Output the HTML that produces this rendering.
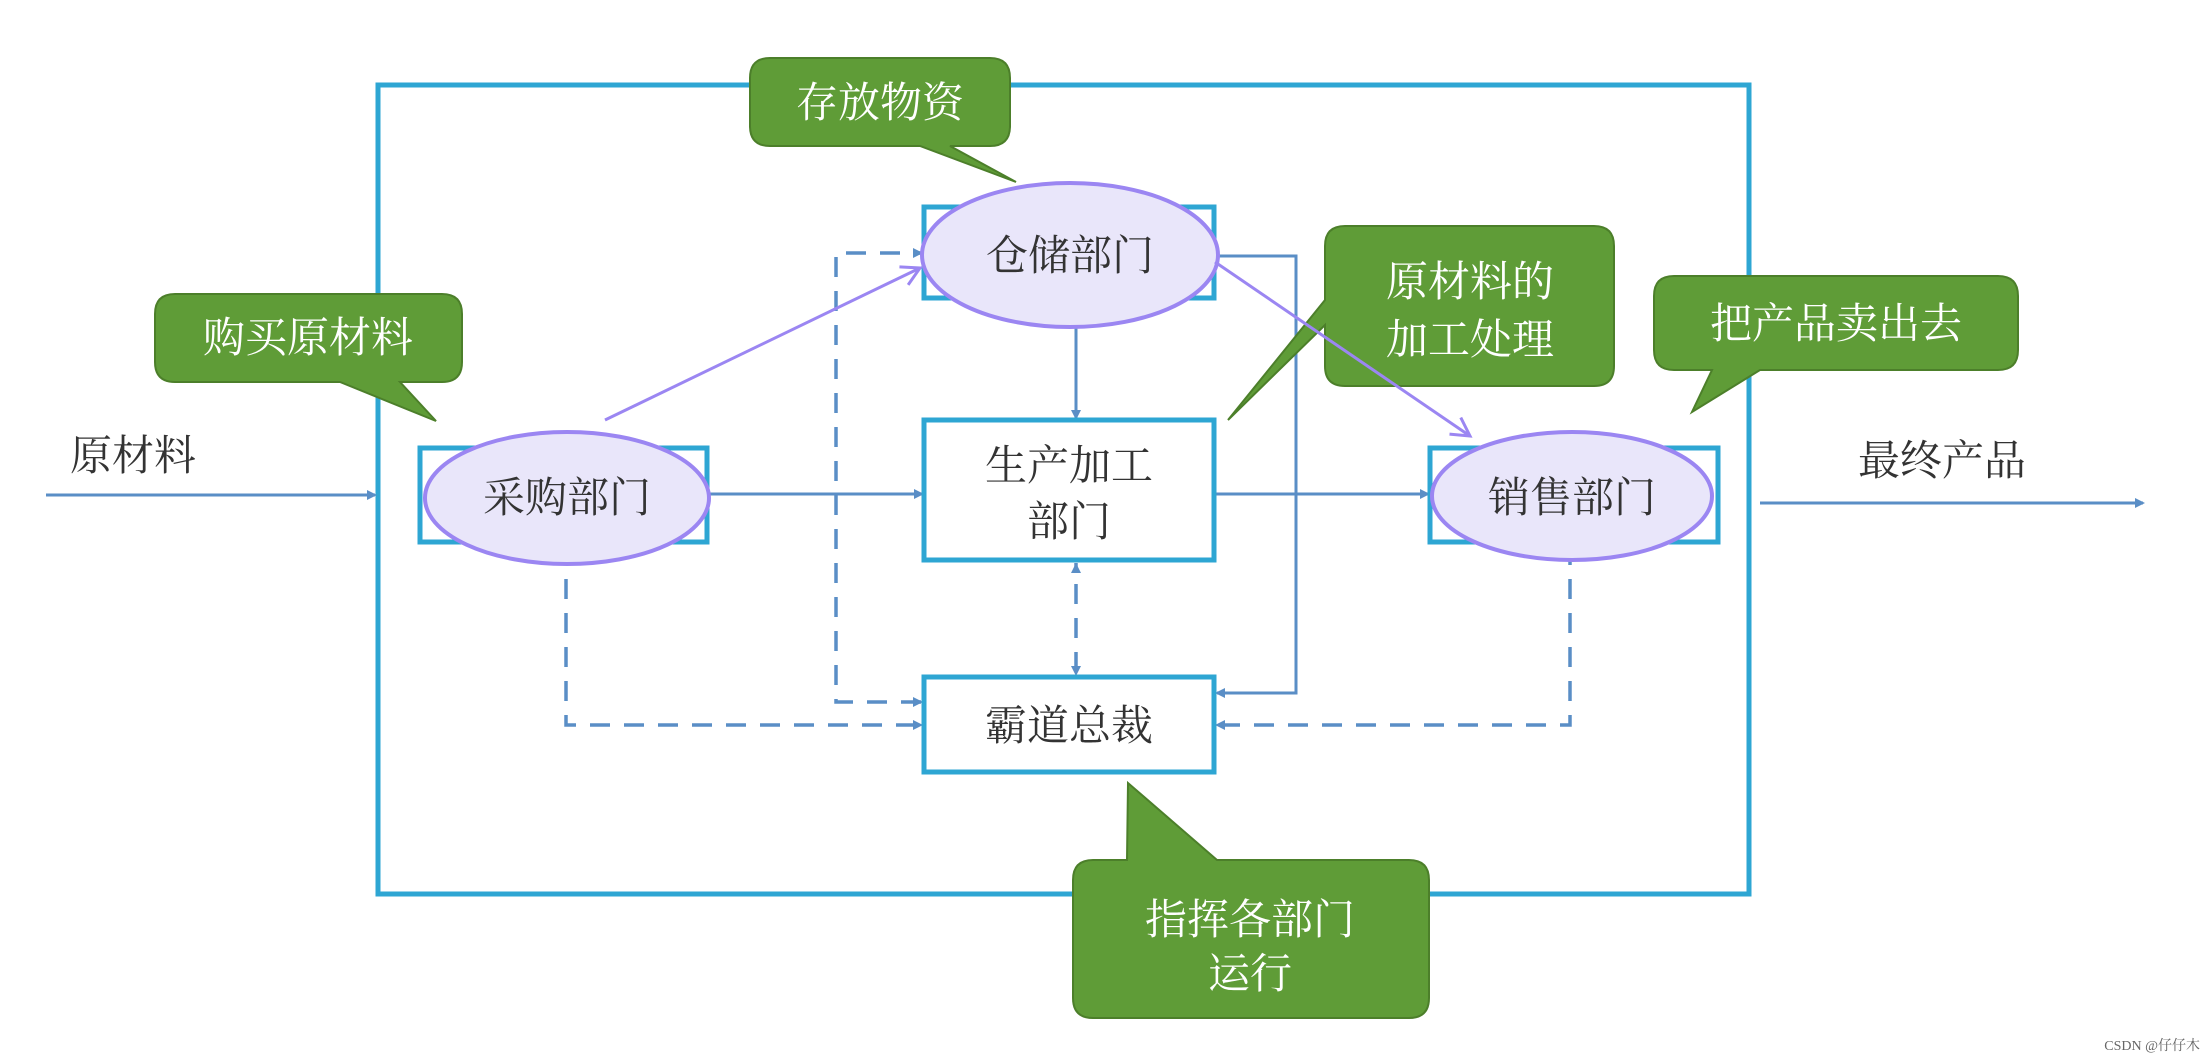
<!DOCTYPE html>
<html><head><meta charset="utf-8"><style>
html,body{margin:0;padding:0;background:#fff;}
svg{display:block;}
text{font-family:"Liberation Serif","Noto Serif CJK SC","Noto Sans CJK SC",serif;}
</style></head><body>
<svg width="2208" height="1057" viewBox="0 0 2208 1057" xmlns="http://www.w3.org/2000/svg">
<defs>
<marker id="a" markerWidth="10" markerHeight="10" refX="8" refY="5" orient="auto-start-reverse" markerUnits="userSpaceOnUse"><path d="M0,0 L10,5 L0,10 z" fill="#5a8ec6"/></marker>
<marker id="p" markerWidth="24" markerHeight="24" refX="20" refY="12" orient="auto" markerUnits="userSpaceOnUse"><path d="M2,2 L20,12 L2,22" fill="none" stroke="#9b86f2" stroke-width="3"/></marker>
</defs>
<rect width="2208" height="1057" fill="#fff"/>
<rect x="378" y="85" width="1371" height="809" fill="none" stroke="#2ea6d3" stroke-width="5"/>
<text x="70" y="470" font-size="42" fill="#333">原材料</text>
<line x1="46" y1="495" x2="375" y2="495" stroke="#5a8ec6" stroke-width="3" marker-end="url(#a)"/>
<text x="1858" y="475" font-size="42" fill="#333">最终产品</text>
<line x1="1760" y1="503" x2="2143" y2="503" stroke="#5a8ec6" stroke-width="3" marker-end="url(#a)"/>
<line x1="708" y1="494" x2="922" y2="494" stroke="#5a8ec6" stroke-width="3" marker-end="url(#a)"/>
<line x1="1214" y1="494" x2="1428" y2="494" stroke="#5a8ec6" stroke-width="3" marker-end="url(#a)"/>
<line x1="1076" y1="298" x2="1076" y2="418" stroke="#5a8ec6" stroke-width="3" marker-end="url(#a)"/>
<polyline points="1214,256 1296,256 1296,693 1217,693" fill="none" stroke="#5a8ec6" stroke-width="3" marker-end="url(#a)"/>
<g fill="none" stroke="#5a8ec6" stroke-width="3.5" stroke-dasharray="20,14">
<polyline points="566,545 566,725 921,725" marker-end="url(#a)"/>
<polyline points="921,702 836,702 836,253 921,253" marker-end="url(#a)" marker-start="url(#a)"/>
<polyline points="1076,672 1076,563"/>
<polyline points="1570,545 1570,725 1217,725" marker-end="url(#a)"/>
</g>
<path d="M566,545 l-5,10 l10,0z M1076,563 l-5,10 l10,0z M1076,676 l-5,-10 l10,0z M1570,545 l-5,10 l10,0z" fill="#5a8ec6"/>
<g fill="#fff" stroke="#2ea6d3" stroke-width="5">
<rect x="420" y="448" width="287" height="94"/>
<rect x="924" y="207" width="290" height="91"/>
<rect x="924" y="420" width="290" height="140"/>
<rect x="924" y="677" width="290" height="95"/>
<rect x="1430" y="448" width="288" height="94"/>
</g>
<g fill="#e9e6fa" stroke="#9b86f2" stroke-width="4">
<ellipse cx="567" cy="498" rx="142" ry="66"/>
<ellipse cx="1070" cy="255" rx="148" ry="72"/>
<ellipse cx="1572" cy="496" rx="140" ry="64"/>
</g>
<g font-size="42" fill="#333" text-anchor="middle">
<text x="567" y="512">采购部门</text>
<text x="1070" y="270">仓储部门</text>
<text x="1069" y="480">生产加工</text>
<text x="1069" y="536">部门</text>
<text x="1069" y="740">霸道总裁</text>
<text x="1572" y="512">销售部门</text>
</g>
<g fill="#5f9c37" stroke="#4c7f2a" stroke-width="2">
<path d="M770,58 H990 Q1010,58 1010,78 V126 Q1010,146 990,146 H950 L1016,182 L920,146 H770 Q750,146 750,126 V78 Q750,58 770,58 Z"/>
<path d="M175,294 H442 Q462,294 462,314 V362 Q462,382 442,382 H400 L436,421 L340,382 H175 Q155,382 155,362 V314 Q155,294 175,294 Z"/>
<path d="M1345,226 H1594 Q1614,226 1614,246 V366 Q1614,386 1594,386 H1345 Q1325,386 1325,366 V325 L1228,420 L1325,300 V246 Q1325,226 1345,226 Z"/>
<path d="M1674,276 H1998 Q2018,276 2018,296 V350 Q2018,370 1998,370 H1760 L1692,412 L1712,370 H1674 Q1654,370 1654,350 V296 Q1654,276 1674,276 Z"/>
<path d="M1093,860 H1127 L1128,783 L1217,860 H1409 Q1429,860 1429,880 V998 Q1429,1018 1409,1018 H1093 Q1073,1018 1073,998 V880 Q1073,860 1093,860 Z"/>
</g>
<g font-size="42" fill="#fff" text-anchor="middle">
<text x="880" y="117">存放物资</text>
<text x="308" y="352">购买原材料</text>
<text x="1470" y="296">原材料的</text>
<text x="1470" y="354">加工处理</text>
<text x="1836" y="338">把产品卖出去</text>
<text x="1250" y="934">指挥各部门</text>
<text x="1250" y="988">运行</text>
</g>
<line x1="605" y1="420" x2="920" y2="268" stroke="#9b86f2" stroke-width="3" marker-end="url(#p)"/>
<line x1="1215" y1="262" x2="1470" y2="436" stroke="#9b86f2" stroke-width="3" marker-end="url(#p)"/>
<text x="2200" y="1050" font-size="14" fill="#666" text-anchor="end" font-family="Liberation Sans, Noto Sans CJK SC, sans-serif">CSDN @仔仔木</text>
</svg>
</body></html>
